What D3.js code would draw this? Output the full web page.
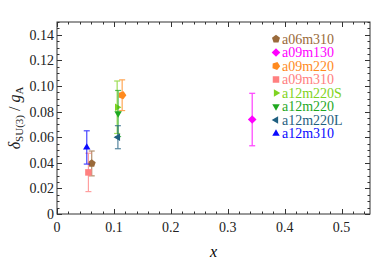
<!DOCTYPE html>
<html>
<head>
<meta charset="utf-8">
<script src="https://cdn.jsdelivr.net/npm/d3@7"></script>
<style>
  body { margin: 0; background: #fff; }
  svg text { font-family: "Liberation Serif", "Times New Roman", serif; }
</style>
</head>
<body>
<svg id="chart" width="374" height="264"></svg>
<script>
// data
const names = ["a06m310", "a09m130", "a09m220", "a09m310", "a12m220S", "a12m220", "a12m220L", "a12m310"]
const xVals = [0.061, 0.343, 0.1145, 0.0552, 0.1057, 0.1074, 0.107, 0.0523]
const yVals = [0.0395, 0.0738, 0.0928, 0.0325, 0.0834, 0.0785, 0.0600, 0.0520]
const yErrs = [0.0097, 0.0205, 0.012, 0.015, 0.0205, 0.018, 0.009, 0.013]
const colors = ["#9a6a3a", "#ff00ff", "#ff8a1e", "#ff8080", "#7fd321", "#1fa81f", "#1f5f80", "#0a0aff"]
const shapes = ["pentagon", "diamond", "pentagonR", "square", "triRight", "triDown", "triLeft", "triUp"]
const xTicks = [0, 0.1, 0.2, 0.3, 0.4, 0.5]
const yTicks = [0, 0.02, 0.04, 0.06, 0.08, 0.10, 0.12, 0.14]

let svg = d3.select("#chart")
let margin = {top: 22, right: 4, bottom: 50, left: 57}
let width = svg.attr("width") - margin.left - margin.right
let height = svg.attr("height") - margin.top - margin.bottom
let g = svg.append("g").attr("transform", "translate(" + margin.left + "," + margin.top + ")")

let x = d3.scaleLinear().domain([0, 0.55]).range([0, width])
let y = d3.scaleLinear().domain([0, 0.15]).range([height, 0])

// polygon symbols, size is radius here
const polygon = (n, rot) => ({
  draw(ctx, r) {
    for (let i = 0; i < n; i++) {
      let a = rot + i * 2 * Math.PI / n
      let px = r * Math.cos(a), py = r * Math.sin(a)
      if (i === 0) ctx.moveTo(px, py); else ctx.lineTo(px, py)
    }
    ctx.closePath()
  }
})
const symbolTypes = {
  pentagon: [polygon(5, -Math.PI / 2), 4.2],
  pentagonR: [polygon(5, -Math.PI / 2 + 0.35), 4.2],
  diamond: [polygon(4, -Math.PI / 2), 4.3],
  square: [polygon(4, Math.PI / 4), 4.6],
  triRight: [polygon(3, 0), 4.3],
  triDown: [polygon(3, Math.PI / 2), 4.3],
  triLeft: [polygon(3, Math.PI), 4.3],
  triUp: [polygon(3, -Math.PI / 2), 4.3]
}
const symbolPath = (s) => d3.symbol().type(symbolTypes[s][0]).size(symbolTypes[s][1])()

// frame
const frameColor = "#333"
g.append("rect")
  .attr("width", width).attr("height", height)
  .attr("fill", "none").attr("stroke", frameColor).attr("stroke-width", 1)

// ticks on all four sides, pointing inward
const xMinor = d3.range(0, 0.5501, 0.02)
const yMinor = d3.range(0, 0.1501, 0.005)
const isMajor = (v, step) => Math.abs(v / step - Math.round(v / step)) < 1e-6

let tickG = g.append("g").attr("stroke", frameColor).attr("stroke-width", 1)
xMinor.forEach(v => {
  let len = isMajor(v, 0.1) ? 5 : 2.5
  let px = Math.round(x(v)) + 0.5
  tickG.append("line").attr("x1", px).attr("x2", px).attr("y1", height).attr("y2", height - len)
  tickG.append("line").attr("x1", px).attr("x2", px).attr("y1", 0).attr("y2", len)
})
yMinor.forEach(v => {
  let len = isMajor(v, 0.02) ? 5 : 2.5
  let py = Math.round(y(v)) + 0.5
  tickG.append("line").attr("x1", 0).attr("x2", len).attr("y1", py).attr("y2", py)
  tickG.append("line").attr("x1", width).attr("x2", width - len).attr("y1", py).attr("y2", py)
})

// tick labels
const fmt = (v) => v === 0 ? "0" : d3.format(".1f")(v)
g.selectAll(".xlab").data(xTicks).enter().append("text")
  .attr("x", d => x(d)).attr("y", height + 18)
  .attr("text-anchor", "middle").attr("font-size", 14).attr("fill", "#222")
  .text(fmt)
g.selectAll(".ylab").data(yTicks).enter().append("text")
  .attr("x", -3).attr("y", d => y(d) + 5)
  .attr("text-anchor", "end").attr("font-size", 14).attr("fill", "#222")
  .text(d => d === 0 ? "0" : d3.format(".2f")(d))

// axis titles
svg.append("text")
  .attr("x", margin.left + width / 2).attr("y", 257)
  .attr("text-anchor", "middle").attr("font-size", 16).attr("font-style", "italic")
  .text("x")

let yt = svg.append("text")
  .attr("transform", "translate(20," + (margin.top + height / 2) + ") rotate(-90)")
  .attr("text-anchor", "middle").attr("font-size", 16).attr("fill", "#222")
yt.append("tspan").attr("font-style", "italic").text("δ")
yt.append("tspan").attr("font-size", 11).attr("dy", 3).text("SU(3)")
yt.append("tspan").attr("dy", -3).text(" / ")
yt.append("tspan").attr("font-style", "italic").text("g")
yt.append("tspan").attr("font-size", 11).attr("dy", 3).text("A")

// error bars and markers
let pts = g.selectAll(".pt").data(names).enter().append("g").attr("class", "pt")
pts.append("g")
  .attr("stroke", (d, i) => colors[i]).attr("stroke-width", 1.2).attr("opacity", 0.75)
  .each(function(d, i) {
    let sel = d3.select(this)
    let cx = x(xVals[i]), y0 = y(yVals[i] - yErrs[i]), y1 = y(yVals[i] + yErrs[i])
    sel.append("line").attr("x1", cx).attr("x2", cx).attr("y1", y0).attr("y2", y1)
    sel.append("line").attr("x1", cx - 3).attr("x2", cx + 3).attr("y1", y0).attr("y2", y0)
    sel.append("line").attr("x1", cx - 3).attr("x2", cx + 3).attr("y1", y1).attr("y2", y1)
  })
pts.append("path")
  .attr("d", (d, i) => symbolPath(shapes[i]))
  .attr("transform", (d, i) => "translate(" + x(xVals[i]) + "," + y(yVals[i]) + ")")
  .attr("fill", (d, i) => colors[i])

// legend
let legend = svg.selectAll(".legend").data(names).enter().append("g")
  .attr("class", "legend")
  .attr("transform", (d, i) => "translate(276," + (39 + i * 13.5) + ")")
legend.append("path")
  .attr("d", (d, i) => symbolPath(shapes[i]))
  .attr("fill", (d, i) => colors[i])
legend.append("text")
  .attr("x", 6).attr("y", 4.5)
  .attr("font-size", 14)
  .attr("fill", (d, i) => colors[i])
  .text(d => d)
</script>
</body>
</html>
